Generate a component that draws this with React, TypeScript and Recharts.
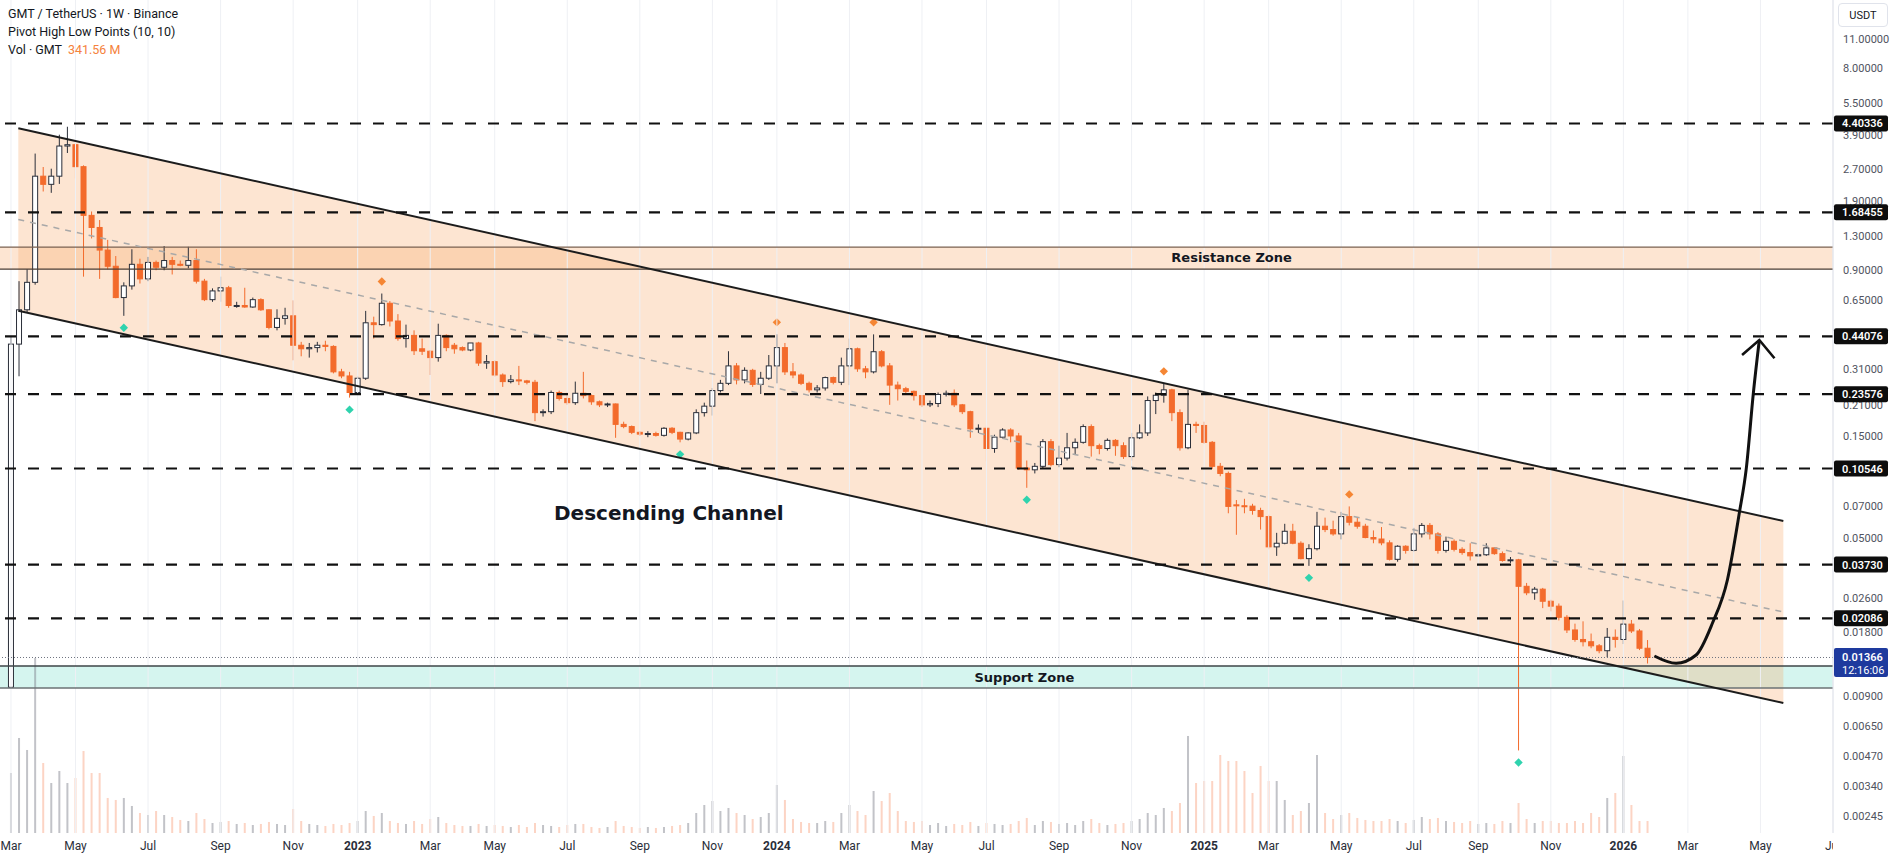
import React from "react";
import {
  ComposedChart,
  Bar,
  Line,
  Area,
  Scatter,
  XAxis,
  YAxis,
  ReferenceLine,
  ReferenceArea,
} from "recharts";

// ---------- weekly candles (bar index 0 = week of 2022-03-07) ----------
const opens = [
  0.0099, 0.405, 0.587, 0.79, 2.49, 2.28, 2.49, 3.45, 3.5, 2.76,
  1.63, 1.43, 1.12, 0.94, 0.67, 0.76, 0.96, 0.82, 0.98, 0.93,
  1.0, 0.96, 0.95, 1.0, 0.8, 0.655, 0.72, 0.745, 0.612, 0.615,
  0.605, 0.655, 0.587, 0.485, 0.535, 0.55, 0.4, 0.385, 0.39, 0.4,
  0.395, 0.3, 0.287, 0.24, 0.28, 0.51, 0.5, 0.63, 0.52, 0.43,
  0.445, 0.385, 0.375, 0.35, 0.445, 0.4, 0.39, 0.38, 0.41, 0.33,
  0.335, 0.29, 0.27, 0.275, 0.272, 0.268, 0.193, 0.195, 0.24, 0.225,
  0.215, 0.238, 0.232, 0.217, 0.21, 0.212, 0.17, 0.166, 0.156, 0.153,
  0.154, 0.151, 0.163, 0.156, 0.145, 0.155, 0.193, 0.207, 0.245, 0.265,
  0.32, 0.275, 0.305, 0.262, 0.28, 0.32, 0.39, 0.3, 0.29, 0.265,
  0.247, 0.252, 0.282, 0.268, 0.32, 0.385, 0.31, 0.3, 0.373, 0.32,
  0.26, 0.25, 0.243, 0.232, 0.21, 0.213, 0.235, 0.238, 0.21, 0.195,
  0.162, 0.163, 0.131, 0.148, 0.16, 0.15, 0.106, 0.104, 0.108, 0.141,
  0.11, 0.118, 0.132, 0.14, 0.166, 0.135, 0.131, 0.143, 0.135, 0.12,
  0.147, 0.155, 0.22, 0.233, 0.247, 0.193, 0.132, 0.17, 0.168, 0.14,
  0.108, 0.1, 0.0712, 0.0705, 0.0702, 0.067, 0.0627, 0.0452, 0.047, 0.0535,
  0.047, 0.0398, 0.0443, 0.0565, 0.0545, 0.052, 0.0627, 0.059, 0.0565, 0.05,
  0.0492, 0.0472, 0.0395, 0.0455, 0.0435, 0.052, 0.057, 0.052, 0.0435, 0.048,
  0.044, 0.0425, 0.041, 0.0415, 0.0447, 0.042, 0.039, 0.0393, 0.0295, 0.0275,
  0.0286, 0.0251, 0.0238, 0.0211, 0.0184, 0.0166, 0.0162, 0.0155, 0.0147, 0.017,
  0.0166, 0.0196, 0.0182, 0.0151,
];
const highs = [
  0.44, 0.8, 0.91, 3.18, 2.75, 2.7, 3.9, 4.25, 3.55, 2.8,
  1.7, 1.55, 1.25, 1.05, 0.79, 1.13, 1.02, 1.04, 1.0, 1.17,
  1.04, 1.0, 1.16, 1.13, 0.82, 0.74, 0.84, 0.76, 0.64, 0.745,
  0.67, 0.665, 0.59, 0.59, 0.6, 0.65, 0.415, 0.41, 0.415, 0.42,
  0.4, 0.31, 0.3, 0.285, 0.58, 0.545, 0.7, 0.645, 0.56, 0.5,
  0.47, 0.43, 0.38, 0.505, 0.45, 0.41, 0.395, 0.41, 0.415, 0.36,
  0.34, 0.295, 0.29, 0.32, 0.275, 0.275, 0.2, 0.245, 0.245, 0.24,
  0.27, 0.3, 0.235, 0.22, 0.215, 0.213, 0.175, 0.168, 0.158, 0.158,
  0.157, 0.165, 0.165, 0.157, 0.156, 0.2, 0.215, 0.252, 0.275, 0.375,
  0.33, 0.315, 0.31, 0.3, 0.36, 0.45, 0.41, 0.33, 0.295, 0.27,
  0.26, 0.285, 0.285, 0.35, 0.43, 0.39, 0.32, 0.45, 0.38, 0.33,
  0.27, 0.255, 0.245, 0.233, 0.22, 0.24, 0.245, 0.248, 0.212, 0.197,
  0.17, 0.168, 0.152, 0.163, 0.163, 0.155, 0.115, 0.112, 0.145, 0.145,
  0.135, 0.155, 0.146, 0.17, 0.17, 0.138, 0.146, 0.145, 0.14, 0.155,
  0.17, 0.23, 0.24, 0.265, 0.25, 0.2, 0.247, 0.175, 0.175, 0.142,
  0.112, 0.102, 0.075, 0.076, 0.072, 0.069, 0.064, 0.0526, 0.058, 0.058,
  0.048, 0.0465, 0.066, 0.062, 0.06, 0.066, 0.07, 0.062, 0.058, 0.054,
  0.056, 0.0485, 0.046, 0.046, 0.0555, 0.0585, 0.0585, 0.053, 0.0505, 0.049,
  0.045, 0.047, 0.042, 0.047, 0.045, 0.043, 0.0405, 0.0397, 0.0306, 0.0293,
  0.029, 0.0255, 0.0245, 0.0216, 0.0197, 0.0202, 0.0177, 0.0158, 0.0188, 0.0185,
  0.0253, 0.0205, 0.0186, 0.0165,
];
const lows = [
  0.0099, 0.286, 0.57, 0.77, 2.11, 2.08, 2.29, 3.2, 2.43, 0.84,
  1.27, 0.82, 0.91, 0.665, 0.55, 0.73, 0.78, 0.8, 0.9, 0.9,
  0.86, 0.94, 0.92, 0.78, 0.645, 0.64, 0.64, 0.6, 0.6, 0.6,
  0.6, 0.58, 0.475, 0.47, 0.5, 0.34, 0.355, 0.35, 0.37, 0.375,
  0.295, 0.28, 0.227, 0.235, 0.275, 0.43, 0.495, 0.49, 0.42, 0.39,
  0.36, 0.36, 0.29, 0.335, 0.375, 0.365, 0.375, 0.375, 0.32, 0.31,
  0.285, 0.255, 0.265, 0.26, 0.262, 0.176, 0.185, 0.19, 0.22, 0.21,
  0.21, 0.225, 0.21, 0.205, 0.205, 0.147, 0.163, 0.153, 0.15, 0.148,
  0.149, 0.149, 0.153, 0.14, 0.143, 0.153, 0.185, 0.187, 0.24, 0.26,
  0.262, 0.265, 0.255, 0.236, 0.275, 0.265, 0.29, 0.28, 0.26, 0.24,
  0.24, 0.245, 0.262, 0.26, 0.26, 0.3, 0.28, 0.295, 0.315, 0.21,
  0.22, 0.235, 0.22, 0.205, 0.205, 0.205, 0.23, 0.205, 0.19, 0.147,
  0.155, 0.114, 0.125, 0.146, 0.14, 0.104, 0.0856, 0.1, 0.105, 0.108,
  0.107, 0.115, 0.122, 0.138, 0.12, 0.123, 0.128, 0.121, 0.117, 0.115,
  0.145, 0.15, 0.19, 0.215, 0.176, 0.128, 0.13, 0.155, 0.138, 0.105,
  0.097, 0.065, 0.0515, 0.065, 0.064, 0.0545, 0.044, 0.041, 0.0465, 0.0465,
  0.0395, 0.0368, 0.0435, 0.053, 0.051, 0.049, 0.057, 0.055, 0.0496, 0.047,
  0.046, 0.039, 0.0385, 0.042, 0.043, 0.05, 0.049, 0.042, 0.0425, 0.043,
  0.0415, 0.039, 0.0405, 0.041, 0.0415, 0.0385, 0.038, 0.005, 0.0268, 0.0255,
  0.0233, 0.0225, 0.0204, 0.0178, 0.0162, 0.0154, 0.0151, 0.0143, 0.0137, 0.0152,
  0.0158, 0.0178, 0.0148, 0.0128,
];
const closes = [
  0.405, 0.587, 0.79, 2.49, 2.28, 2.49, 3.45, 3.5, 2.76, 1.63,
  1.43, 1.12, 0.94, 0.67, 0.76, 0.96, 0.82, 0.98, 0.93, 1.0,
  0.96, 0.95, 1.0, 0.8, 0.655, 0.72, 0.745, 0.615, 0.615, 0.605,
  0.655, 0.587, 0.485, 0.535, 0.55, 0.4, 0.385, 0.39, 0.4, 0.395,
  0.3, 0.287, 0.24, 0.28, 0.51, 0.5, 0.63, 0.52, 0.43, 0.445,
  0.377, 0.375, 0.35, 0.445, 0.39, 0.385, 0.38, 0.41, 0.33, 0.335,
  0.29, 0.27, 0.275, 0.272, 0.268, 0.193, 0.195, 0.24, 0.225, 0.215,
  0.238, 0.232, 0.217, 0.21, 0.212, 0.17, 0.166, 0.156, 0.153, 0.154,
  0.151, 0.163, 0.156, 0.145, 0.155, 0.193, 0.207, 0.245, 0.265, 0.32,
  0.275, 0.305, 0.262, 0.28, 0.32, 0.39, 0.3, 0.29, 0.265, 0.247,
  0.252, 0.282, 0.268, 0.32, 0.385, 0.31, 0.3, 0.373, 0.32, 0.26,
  0.25, 0.243, 0.232, 0.21, 0.213, 0.235, 0.238, 0.21, 0.195, 0.162,
  0.163, 0.131, 0.148, 0.16, 0.15, 0.106, 0.104, 0.108, 0.141, 0.11,
  0.118, 0.132, 0.14, 0.166, 0.135, 0.131, 0.143, 0.135, 0.12, 0.147,
  0.155, 0.22, 0.233, 0.247, 0.193, 0.132, 0.17, 0.168, 0.14, 0.108,
  0.1, 0.07, 0.0705, 0.0702, 0.067, 0.0627, 0.0452, 0.047, 0.0535, 0.047,
  0.0398, 0.0443, 0.0565, 0.0545, 0.052, 0.0627, 0.059, 0.0565, 0.05, 0.0492,
  0.0472, 0.0395, 0.0455, 0.0435, 0.052, 0.057, 0.052, 0.0435, 0.048, 0.044,
  0.0425, 0.041, 0.0415, 0.0447, 0.042, 0.039, 0.0393, 0.0295, 0.0275, 0.0286,
  0.0251, 0.0238, 0.0211, 0.0184, 0.0166, 0.0162, 0.0155, 0.0147, 0.017, 0.0166,
  0.0196, 0.0182, 0.0151, 0.01366,
];
// volume in millions of GMT
const volumesM = [
  1710, 2708, 2366, 4988, 1995, 1425, 1767, 1425, 1568, 2337,
  1710, 1710, 998, 941, 998, 770, 570, 513, 627, 513,
  456, 371, 342, 570, 399, 285, 314, 342, 257, 285,
  228, 257, 314, 257, 228, 684, 342, 257, 228, 200,
  257, 228, 285, 342, 627, 485, 570, 342, 285, 257,
  342, 257, 399, 456, 285, 228, 200, 200, 257, 200,
  228, 200, 171, 228, 171, 285, 228, 200, 171, 228,
  257, 257, 171, 143, 171, 342, 200, 171, 143, 171,
  143, 171, 200, 228, 285, 570, 798, 912, 627, 713,
  570, 513, 399, 456, 570, 1368, 941, 399, 314, 285,
  285, 342, 314, 570, 798, 627, 513, 1197, 912, 1140,
  627, 342, 314, 342, 228, 285, 200, 257, 228, 314,
  200, 285, 257, 228, 257, 342, 428, 228, 342, 314,
  257, 285, 228, 342, 399, 285, 228, 257, 285, 342,
  399, 570, 513, 713, 627, 855, 2765, 1425, 1482, 1482,
  2223, 2052, 2052, 1767, 1140, 1910, 1482, 1482, 941, 513,
  627, 855, 2223, 570, 399, 513, 570, 428, 371, 342,
  342, 399, 342, 285, 371, 456, 399, 428, 342, 314,
  285, 342, 257, 285, 257, 342, 285, 855, 399, 285,
  342, 342, 285, 285, 342, 285, 570, 456, 998, 1140,
  2195, 798, 342, 341.56,
];
const pivotHighIdx = [46, 95, 107, 143, 166];
const pivotLowIdx = [14, 42, 83, 126, 161, 187];

// ---------- axes ----------
const xTickIdx = [0, 8, 17, 26, 35, 43, 52, 60, 69, 78, 87, 95, 104, 113, 121, 130, 139, 148, 156, 165, 174, 182, 191, 200, 208, 217, 226];
const xTickLabels = ["Mar", "May", "Jul", "Sep", "Nov", "2023", "Mar", "May", "Jul", "Sep", "Nov", "2024", "Mar", "May", "Jul", "Sep", "Nov", "2025", "Mar", "May", "Jul", "Sep", "Nov", "2026", "Mar", "May", "Jul"];
const priceTicks = [11, 8, 5.5, 3.9, 2.7, 1.9, 1.3, 0.9, 0.65, 0.31, 0.21, 0.15, 0.07, 0.05, 0.026, 0.018, 0.009, 0.0065, 0.0047, 0.0034, 0.00245];
const levelValues = [4.40336, 1.68455, 0.44076, 0.23576, 0.10546, 0.0373, 0.02086];
const levelLabels = ["4.40336", "1.68455", "0.44076", "0.23576", "0.10546", "0.03730", "0.02086"];
const lastPrice = 0.01366;
const lastPriceLabel = "0.01366";
const countdown = "12:16:06";

// ---------- drawings ----------
const resistanceZone = [0.912, 1.157];
const supportZone = [0.00982, 0.01246];
const channelX = [0.906, 219.84];
const channelUpper = [4.18, 0.0598];
const channelLower = [0.5812, 0.00835];
const channelMid = [1.558, 0.02234];
const projectionX = [203.84, 206.54, 209.02, 211.04, 212.9, 214.38, 215.25, 216.12, 216.86];
const projectionP = [0.01388, 0.01283, 0.01403, 0.01978, 0.03159, 0.06522, 0.106, 0.2386, 0.4234];
const arrowHeadX = [214.72, 216.86, 218.74];
const arrowHeadP = [0.36, 0.4234, 0.3474];
const annotationText = ["Resistance Zone", "Support Zone", "Descending Channel"];
const annotationX = [151.4, 125.7, 81.6];
const annotationP = [1.028, 0.01106, 0.0652];
const annotationSize = [13, 13, 20];

const X_MIN = -1.364;
const X_MAX = 226;
const Y_MIN = 0.002047;
const Y_MAX = 16.74;
const VOL_MAX = 23740;

const UP_STROKE = "#2a2e39";
const DOWN = "#f36b2c";

const candles = opens.map((o, i) => ({
  x: i,
  o,
  h: highs[i],
  l: lows[i],
  c: closes[i],
  v: volumesM[i],
  range: [lows[i], highs[i]],
}));

const channelData = channelX.map((x, i) => ({ x, band: [channelLower[i], channelUpper[i]] }));
const upperData = channelX.map((x, i) => ({ x, p: channelUpper[i] }));
const lowerData = channelX.map((x, i) => ({ x, p: channelLower[i] }));
const midData = channelX.map((x, i) => ({ x, p: channelMid[i] }));
const projectionData = projectionX.map((x, i) => ({ x, p: projectionP[i] }));
const arrowHeadData = arrowHeadX.map((x, i) => ({ x, p: arrowHeadP[i] }));
const annotations = annotationText.map((text, i) => ({ x: annotationX[i], p: annotationP[i], text, size: annotationSize[i] }));

const CandleShape = (props: any) => {
  const { x, y, width, height, payload } = props;
  if (!payload || x == null || y == null) return null;
  const { o, h, l, c } = payload;
  const cx = x + width / 2;
  const yTop = Math.min(y, y + height);
  const yBot = Math.max(y, y + height);
  const lh = Math.log(h);
  const ll = Math.log(l);
  const span = lh - ll;
  const py = (p: number) => (span > 0 ? yTop + ((yBot - yTop) * (lh - Math.log(p))) / span : yTop);
  const up = c >= o;
  const bTop = py(Math.max(o, c));
  const bBot = py(Math.min(o, c));
  const bh = Math.max(1, bBot - bTop);
  const bw = 5;
  const col = up ? UP_STROKE : DOWN;
  const isPH = pivotHighIdx.includes(payload.x);
  const isPL = pivotLowIdx.includes(payload.x);
  const d = 4.2;
  return (
    <g>
      <line x1={cx} x2={cx} y1={yTop} y2={yBot} stroke={col} strokeWidth={1} />
      <rect
        x={cx - bw / 2}
        y={bTop}
        width={bw}
        height={bh}
        fill={up ? "#ffffff" : DOWN}
        stroke={col}
        strokeWidth={1}
      />
      {isPH && (
        <polygon
          points={`${cx},${yTop - 12 - d} ${cx + d},${yTop - 12} ${cx},${yTop - 12 + d} ${cx - d},${yTop - 12}`}
          fill="#f58634"
        />
      )}
      {isPL && (
        <polygon
          points={`${cx},${yBot + 12 - d} ${cx + d},${yBot + 12} ${cx},${yBot + 12 + d} ${cx - d},${yBot + 12}`}
          fill="#2fd3ae"
        />
      )}
    </g>
  );
};

const VolShape = (props: any) => {
  const { x, y, width, height, payload } = props;
  if (!payload || x == null) return null;
  const cx = x + width / 2;
  const up = payload.c >= payload.o;
  return (
    <rect
      x={cx - 1}
      y={y}
      width={2}
      height={Math.max(0, height)}
      fill={up ? "rgba(120,123,134,0.45)" : "rgba(245,120,70,0.32)"}
    />
  );
};

const TimeTick = (props: any) => {
  const { x, y, payload } = props;
  const k = xTickIdx.indexOf(payload.value);
  const label = k >= 0 ? xTickLabels[k] : "";
  const isYear = /^\d{4}$/.test(label);
  return (
    <g clipPath="url(#timeClip)">
      <text
        x={x}
        y={y + 17}
        textAnchor="middle"
        fontFamily="Roboto, sans-serif"
        fontSize={12}
        fontWeight={isYear ? 700 : 400}
        fill="#2a2e39"
      >
        {label}
      </text>
    </g>
  );
};

const PriceTick = (props: any) => {
  const { x, y, payload } = props;
  const v = payload.value;
  const li = levelValues.indexOf(v);
  if (v === lastPrice) {
    return (
      <g>
        <rect x={x + 1} y={y - 9.5} width={54} height={29} rx={2} fill="#1e3a9e" />
        <text x={x + 9} y={y + 4} fontFamily="Roboto, sans-serif" fontSize={11} fontWeight={600} fill="#ffffff">
          {lastPriceLabel}
        </text>
        <text x={x + 9} y={y + 16.5} fontFamily="Roboto, sans-serif" fontSize={11} fill="#ffffff">
          {countdown}
        </text>
      </g>
    );
  }
  if (li >= 0) {
    return (
      <g>
        <rect x={x + 1} y={y - 8} width={54} height={16} rx={2} fill="#0d0d0d" />
        <text x={x + 9} y={y + 4} fontFamily="Roboto, sans-serif" fontSize={11} fontWeight={600} fill="#ffffff">
          {levelLabels[li]}
        </text>
      </g>
    );
  }
  const label = v.toFixed(5);
  return (
    <text x={x + 10} y={y + 4} fontFamily="Roboto, sans-serif" fontSize={11} fill="#50535e">
      {label}
    </text>
  );
};

const AnnotationShape = (props: any) => {
  const { cx, cy, payload } = props;
  if (cx == null || cy == null) return null;
  return (
    <text
      x={cx}
      y={cy}
      textAnchor="middle"
      dominantBaseline="central"
      fontFamily="'DejaVu Sans', sans-serif"
      fontWeight="bold"
      fontSize={payload.size}
      fill="#131722"
    >
      {payload.text}
    </text>
  );
};

const allPriceTicks = [...priceTicks, ...levelValues, lastPrice];

export default function App() {
  return (
    <div
      style={{
        position: "absolute",
        left: 0,
        top: 0,
        width: 1892,
        height: 864,
        background: "#ffffff",
        overflow: "hidden",
      }}
    >
      <ComposedChart width={1892} height={864} data={candles} margin={{ top: 0, right: 0, bottom: 0, left: 0 }}>
        <defs>
          <clipPath id="timeClip">
            <rect x={0} y={830} width={1833} height={40} />
          </clipPath>
        </defs>
        <XAxis
          xAxisId="t"
          dataKey="x"
          type="number"
          domain={[X_MIN, X_MAX]}
          allowDataOverflow
          ticks={xTickIdx}
          interval={0}
          tick={<TimeTick />}
          tickLine={false}
          tickSize={0}
          tickMargin={0}
          axisLine={false}
          height={31}
        />
        <XAxis xAxisId="tv" dataKey="x" type="number" domain={[X_MIN, X_MAX]} allowDataOverflow hide />
        <YAxis
          yAxisId="p"
          orientation="right"
          scale="log"
          domain={[Y_MIN, Y_MAX]}
          allowDataOverflow
          ticks={allPriceTicks}
          interval={0}
          tick={<PriceTick />}
          tickLine={false}
          tickSize={0}
          tickMargin={0}
          width={59}
          axisLine={{ stroke: "#e0e3eb" }}
        />
        <YAxis yAxisId="v" domain={[0, VOL_MAX]} allowDataOverflow hide />

        {xTickIdx.map((t) => (
          <ReferenceLine key={"g" + t} xAxisId="t" yAxisId="p" x={t} stroke="#eef0f4" strokeWidth={1} />
        ))}

        <ReferenceArea
          xAxisId="t"
          yAxisId="p"
          y1={resistanceZone[0]}
          y2={resistanceZone[1]}
          fill="#f9a86a"
          fillOpacity={0.3}
          stroke="none"
        />
        <ReferenceLine xAxisId="t" yAxisId="p" y={resistanceZone[1]} stroke="#7a6252" strokeWidth={1.3} />
        <ReferenceLine xAxisId="t" yAxisId="p" y={resistanceZone[0]} stroke="#4a3c33" strokeWidth={1.3} />

        <ReferenceArea
          xAxisId="t"
          yAxisId="p"
          y1={supportZone[0]}
          y2={supportZone[1]}
          fill="#2ecfb0"
          fillOpacity={0.2}
          stroke="none"
        />
        <ReferenceLine xAxisId="t" yAxisId="p" y={supportZone[1]} stroke="#3d4447" strokeWidth={1.3} />
        <ReferenceLine xAxisId="t" yAxisId="p" y={supportZone[0]} stroke="#6b7275" strokeWidth={1.3} />

        <Area
          xAxisId="t"
          yAxisId="p"
          data={channelData}
          dataKey="band"
          type="linear"
          stroke="none"
          fill="#f9a86a"
          fillOpacity={0.3}
          isAnimationActive={false}
          dot={false}
          activeDot={false}
        />

        <Bar xAxisId="tv" yAxisId="v" dataKey="v" barSize={2} shape={<VolShape />} isAnimationActive={false} />

        <Line xAxisId="t" yAxisId="p" data={midData} dataKey="p" type="linear" stroke="#a8a8a8" strokeWidth={1.5} strokeDasharray="6 6" dot={false} activeDot={false} isAnimationActive={false} />
        <Line xAxisId="t" yAxisId="p" data={upperData} dataKey="p" type="linear" stroke="#1c1c1c" strokeWidth={2} dot={false} activeDot={false} isAnimationActive={false} />
        <Line xAxisId="t" yAxisId="p" data={lowerData} dataKey="p" type="linear" stroke="#1c1c1c" strokeWidth={2} dot={false} activeDot={false} isAnimationActive={false} />

        {levelValues.map((v) => (
          <ReferenceLine key={"l" + v} xAxisId="t" yAxisId="p" y={v} stroke="#111111" strokeWidth={2.2} strokeDasharray="11 12" />
        ))}
        <ReferenceLine xAxisId="t" yAxisId="p" y={lastPrice} stroke="#6f7480" strokeWidth={1} strokeDasharray="1 2" />

        <Bar xAxisId="t" yAxisId="p" dataKey="range" barSize={6} shape={<CandleShape />} isAnimationActive={false} />

        <Line xAxisId="t" yAxisId="p" data={projectionData} dataKey="p" type="monotone" stroke="#111111" strokeWidth={3} dot={false} activeDot={false} isAnimationActive={false} />
        <Line xAxisId="t" yAxisId="p" data={arrowHeadData} dataKey="p" type="linear" stroke="#111111" strokeWidth={2.6} dot={false} activeDot={false} isAnimationActive={false} />

        <Scatter xAxisId="t" yAxisId="p" data={annotations} dataKey="p" shape={<AnnotationShape />} isAnimationActive={false} />
      </ComposedChart>

      <div
        style={{
          position: "absolute",
          left: 8,
          top: 5,
          fontFamily: "Roboto, sans-serif",
          fontSize: 12.5,
          lineHeight: "18px",
          color: "#131722",
          pointerEvents: "none",
        }}
      >
        <div>GMT / TetherUS · 1W · Binance</div>
        <div>Pivot High Low Points (10, 10)</div>
        <div>
          Vol · GMT <span style={{ color: "#f5823c", marginLeft: 3 }}>341.56 M</span>
        </div>
      </div>
      <div
        style={{
          position: "absolute",
          left: 1838,
          top: 3,
          width: 50,
          height: 24,
          border: "1px solid #e0e3eb",
          borderRadius: 4,
          boxSizing: "border-box",
          fontFamily: "Roboto, sans-serif",
          fontSize: 11,
          color: "#131722",
          display: "flex",
          alignItems: "center",
          justifyContent: "center",
        }}
      >
        USDT
      </div>
    </div>
  );
}
